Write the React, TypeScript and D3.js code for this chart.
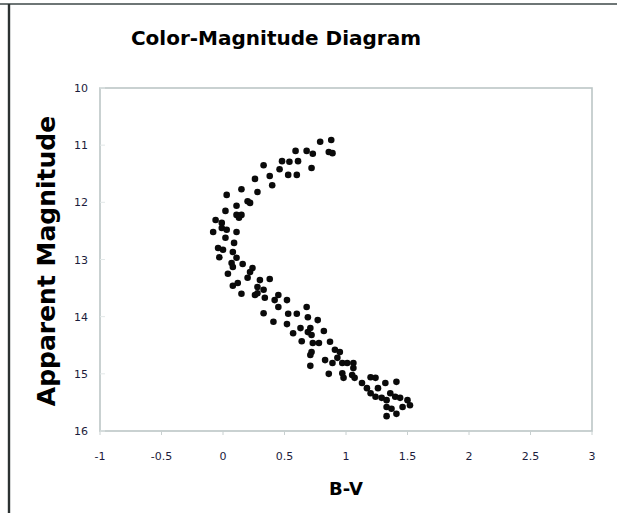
import React from "react";
import * as d3 from "d3";

// Star colour index (B-V) and apparent magnitude for each star in the cluster
const bv = [
  0.79, 0.88, 0.86, 0.89, 0.68, 0.73, 0.59, 0.48, 0.54, 0.61,
  0.46, 0.53, 0.60, 0.72, 0.33, 0.38, 0.40, 0.26, 0.15, 0.28,
  0.20, 0.22, 0.03, 0.11, 0.02, 0.11, 0.15, 0.13, -0.06, -0.01,
  -0.08, -0.01, 0.02, 0.11, 0.09, -0.04, 0.00, -0.03, 0.08, 0.11,
  0.07, 0.08, 0.16, 0.24, 0.22, 0.04, 0.20, 0.30, 0.38, 0.08,
  0.12, 0.28, 0.33, 0.15, 0.26, 0.28, 0.34, 0.45, 0.42, 0.52,
  0.45, 0.33, 0.68, 0.53, 0.60, 0.69, 0.41, 0.77, 0.03, 0.52,
  0.57, 0.63, 0.69, 0.72, 0.71, 0.82, 0.64, 0.73, 0.78, 0.87,
  0.72, 0.91, 0.95, 0.71, 0.83, 0.93, 0.97, 1.01, 1.06, 0.71,
  0.89, 0.86, 1.06, 0.97, 0.98, 1.05, 1.07, 1.13, 1.20, 1.24,
  1.17, 1.20, 1.26, 1.24, 1.32, 1.41, 1.29, 1.33, 1.36, 1.40,
  1.44, 1.50, 1.52, 1.46, 1.33, 1.37, 1.33, 1.41,
];
const vMag = [
  10.94, 10.91, 11.12, 11.14, 11.10, 11.15, 11.10, 11.28, 11.29, 11.28,
  11.42, 11.52, 11.52, 11.40, 11.35, 11.54, 11.70, 11.59, 11.77, 11.82,
  11.98, 12.01, 11.87, 12.06, 12.15, 12.22, 12.22, 12.27, 12.31, 12.36,
  12.52, 12.45, 12.62, 12.52, 12.71, 12.80, 12.83, 12.96, 12.87, 12.97,
  13.06, 13.13, 13.08, 13.15, 13.22, 13.25, 13.32, 13.36, 13.34, 13.46,
  13.41, 13.48, 13.53, 13.60, 13.62, 13.59, 13.67, 13.62, 13.71, 13.71,
  13.83, 13.94, 13.83, 13.95, 13.95, 14.01, 14.09, 14.06, 12.48, 14.13,
  14.29, 14.20, 14.27, 14.32, 14.20, 14.25, 14.43, 14.46, 14.46, 14.44,
  14.62, 14.58, 14.62, 14.67, 14.76, 14.72, 14.81, 14.81, 14.81, 14.86,
  14.81, 15.00, 14.90, 14.99, 15.07, 15.02, 15.07, 15.16, 15.06, 15.07,
  15.25, 15.34, 15.25, 15.40, 15.16, 15.14, 15.42, 15.46, 15.34, 15.40,
  15.42, 15.46, 15.55, 15.58, 15.58, 15.61, 15.74, 15.70,
];

const xTicks = [-1, -0.5, 0, 0.5, 1, 1.5, 2, 2.5, 3];
const yTicks = [10, 11, 12, 13, 14, 15, 16];

const W = 617;
const H = 513;
const plot = { left: 100, right: 592, top: 88, bottom: 431 };

export default function App() {
  const x = d3.scaleLinear().domain([-1, 3]).range([plot.left, plot.right]);
  const y = d3.scaleLinear().domain([10, 16]).range([plot.top, plot.bottom]);
  const font = "'DejaVu Sans', Verdana, sans-serif";
  const stars = bv.map((c, i) => ({ c, m: vMag[i] }));

  return (
    <svg
      width={W}
      height={H}
      style={{ position: "fixed", left: 0, top: 0, background: "#fff" }}
      fontFamily={font}
    >
      <rect x={0} y={0} width={W} height={H} fill="#fff" />
      {/* outer frame pieces */}
      <line x1={0} x2={W} y1={4} y2={4} stroke="#6e7676" strokeWidth={2} />
      <line x1={9} x2={9} y1={4} y2={H} stroke="#2c3232" strokeWidth={2.4} />

      <text
        x={276}
        y={45}
        textAnchor="middle"
        fontWeight="bold"
        fontSize={20}
        fill="#000"
      >
        Color-Magnitude Diagram
      </text>

      {/* plot frame */}
      <rect
        x={plot.left}
        y={plot.top}
        width={plot.right - plot.left}
        height={plot.bottom - plot.top}
        fill="none"
        stroke="#bcc6c6"
        strokeWidth={1.6}
      />

      {xTicks.map((t) => (
        <g key={`x${t}`}>
          <line
            x1={x(t)}
            x2={x(t)}
            y1={plot.bottom}
            y2={plot.bottom + 4}
            stroke="#c8d0d0"
            strokeWidth={1}
          />
          <text
            x={x(t)}
            y={460}
            textAnchor="middle"
            fontSize={11}
            fill="#1c1c3c"
          >
            {t}
          </text>
        </g>
      ))}

      {yTicks.map((t) => (
        <g key={`y${t}`}>
          <line
            x1={plot.left}
            x2={plot.left + 5}
            y1={y(t)}
            y2={y(t)}
            stroke="#e2e8e8"
            strokeWidth={1}
          />
          <text
            x={88}
            y={y(t) + 4}
            textAnchor="end"
            fontSize={11}
            fill="#1c1c3c"
          >
            {t}
          </text>
        </g>
      ))}

      {stars.map((s, i) => (
        <circle key={i} cx={x(s.c)} cy={y(s.m)} r={3.3} fill="#0a0a0a" />
      ))}

      <text
        x={346}
        y={495}
        textAnchor="middle"
        fontWeight="bold"
        fontSize={18}
        fill="#000"
      >
        B-V
      </text>
      <text
        transform={`translate(55, 261) rotate(-90)`}
        textAnchor="middle"
        fontWeight="bold"
        fontSize={25}
        fill="#000"
      >
        Apparent Magnitude
      </text>
    </svg>
  );
}
